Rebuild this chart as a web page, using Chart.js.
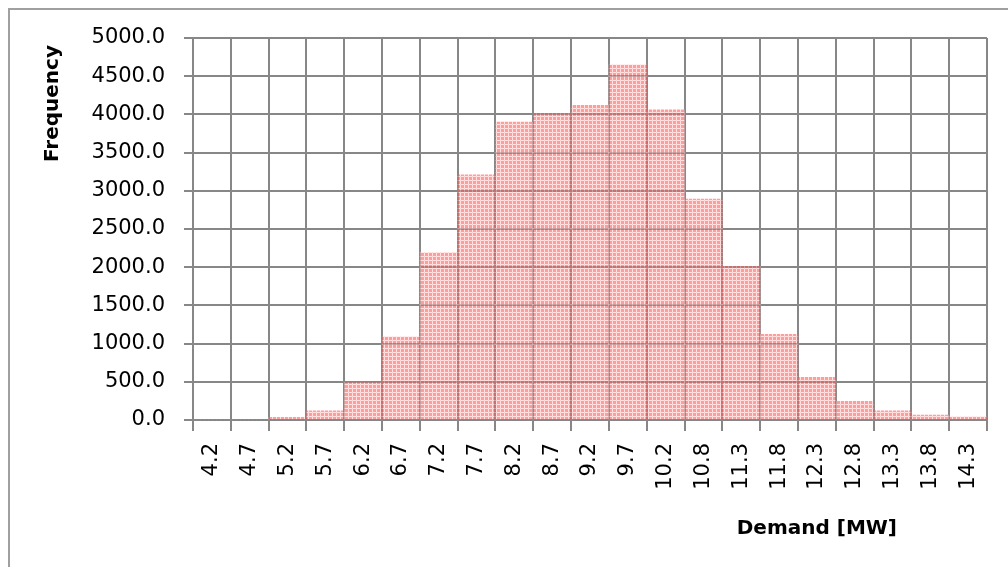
<!DOCTYPE html>
<html>
<head>
<meta charset="utf-8">
<script src="https://cdn.jsdelivr.net/npm/chart.js@4/dist/chart.umd.min.js"></script>
<style>
  html, body { margin: 0; padding: 0; background: #fff; }
  #wrap { position: relative; width: 1008px; height: 567px; overflow: hidden; }
  #frame { position: absolute; left: 8px; top: 8px; width: 1100px; height: 700px;
           border-left: 2px solid #a0a0a0; border-top: 2px solid #a0a0a0; box-sizing: border-box; }
  canvas { position: absolute; left: 0; top: 0; }
</style>
</head>
<body>
<div id="wrap">
  <div id="frame"></div>
  <canvas id="c" width="1008" height="567"></canvas>
</div>
<script>
const categories = ['4.2','4.7','5.2','5.7','6.2','6.7','7.2','7.7','8.2','8.7','9.2','9.7','10.2','10.8','11.3','11.8','12.3','12.8','13.3','13.8','14.3'];
const frequency  = [0, 0, 35, 120, 490, 1090, 2190, 3210, 3900, 4010, 4120, 4650, 4060, 2890, 2010, 1120, 560, 245, 120, 65, 40];
const yMin = 0, yMax = 5000, yStep = 500;
const xTitle = 'Demand [MW]';
const yTitle = 'Frequency';

const FONT = "'DejaVu Sans', sans-serif";

function makePattern() {
  const p = document.createElement('canvas');
  p.width = 4; p.height = 4;
  const g = p.getContext('2d');
  g.fillStyle = 'rgba(255,90,90,0.6)';
  g.fillRect(0, 0, 4, 4);
  g.clearRect(0, 0, 4, 1);
  g.clearRect(0, 0, 1, 4);
  g.fillStyle = 'rgba(255,190,190,0.45)';
  g.fillRect(0, 0, 4, 1);
  g.fillRect(0, 0, 1, 4);
  return document.getElementById('c').getContext('2d').createPattern(p, 'repeat');
}

const titlesPlugin = {
  id: 'axisTitles',
  afterDraw(chart) {
    const ctx = chart.ctx;
    ctx.save();
    ctx.font = "bold 20px " + FONT;
    ctx.fillStyle = '#000';
    ctx.textBaseline = 'middle';
    ctx.textAlign = 'right';
    ctx.fillText(xTitle, 897, 529);
    ctx.translate(53, 45);
    ctx.rotate(-Math.PI / 2);
    ctx.textAlign = 'right';
    ctx.fillText(yTitle, 0, 0);
    ctx.restore();
  }
};

new Chart(document.getElementById('c'), {
  type: 'bar',
  data: {
    labels: categories,
    datasets: [{
      data: frequency,
      backgroundColor: makePattern(),
      borderWidth: 0,
      categoryPercentage: 1.0,
      barPercentage: 1.0
    }]
  },
  options: {
    responsive: false,
    animation: false,
    events: [],
    layout: { padding: { left: 0, right: 21, top: 38, bottom: 0 } },
    plugins: { legend: { display: false }, tooltip: { enabled: false } },
    scales: {
      x: {
        grid: { color: '#878787', lineWidth: 2, tickLength: 11, offset: true, drawTicks: true },
        border: { color: '#878787', width: 2 },
        ticks: {
          color: '#000', minRotation: 90, maxRotation: 90, autoSkip: false, padding: 12,
          font: { family: FONT, size: 21 }
        },
        afterFit(scale) { scale.height = 147; }
      },
      y: {
        min: yMin, max: yMax,
        grid: { color: '#878787', lineWidth: 2, tickLength: 9 },
        border: { color: '#878787', width: 2 },
        ticks: {
          stepSize: yStep, color: '#000', padding: 19,
          font: { family: FONT, size: 21 },
          callback: v => Number(v).toFixed(1)
        },
        afterFit(scale) { scale.width = 193; }
      }
    }
  },
  plugins: [titlesPlugin]
});
</script>
</body>
</html>
